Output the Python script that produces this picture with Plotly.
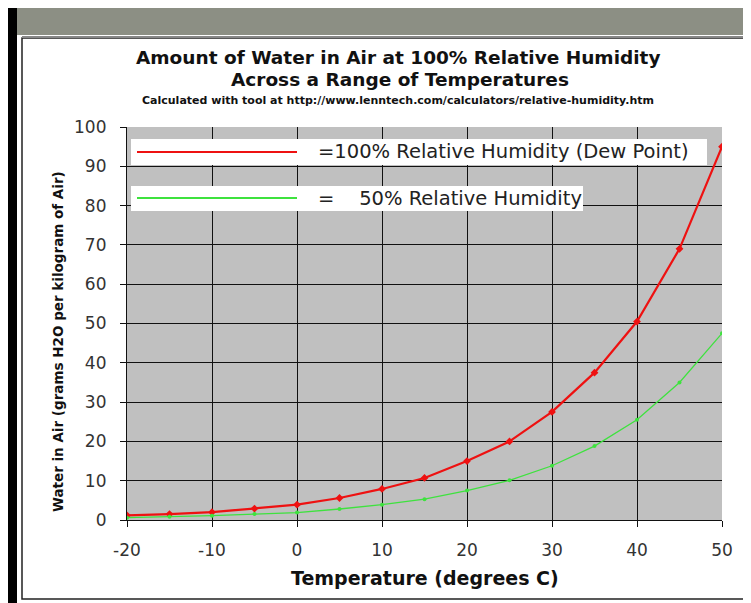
import plotly.graph_objects as go

# ---- data ----
temps_c = [-20, -15, -10, -5, 0, 5, 10, 15, 20, 25, 30, 35, 40, 45, 50]
rh100_g_per_kg = [1.2, 1.5, 2.0, 2.9, 3.9, 5.6, 7.9, 10.7, 15.0, 20.0, 27.5, 37.5, 50.5, 69.0, 95.0]
rh50_g_per_kg = [0.6, 0.8, 1.1, 1.5, 1.9, 2.8, 3.9, 5.3, 7.5, 10.1, 13.8, 18.8, 25.5, 35.0, 47.5]
x_ticks = [-20, -10, 0, 10, 20, 30, 40, 50]
y_ticks = [0, 10, 20, 30, 40, 50, 60, 70, 80, 90, 100]

OFF = 8  # page body margin
W, H = 751 - OFF, 603 - OFF
# plot area in reference-window coordinates
RL, RR, RT, RB = 127, 722, 127, 520
L, R, T, B = RL - OFF, RR - OFF, RT - OFF, RB - OFF


def px(x):
    return (x - RL) / (RR - RL)


def py(y):
    return (RB - y) / (RB - RT)


fig = go.Figure()
fig.add_trace(go.Scatter(
    x=temps_c, y=rh100_g_per_kg, mode="lines+markers",
    line=dict(color="#ee1111", width=2.2),
    marker=dict(symbol="diamond", size=6, color="#ee1111"),
    showlegend=False,
))
fig.add_trace(go.Scatter(
    x=temps_c, y=rh50_g_per_kg, mode="lines+markers",
    line=dict(color="#3ee23e", width=1.3),
    marker=dict(symbol="circle", size=4, color="#3ee23e"),
    showlegend=False,
))

FONT = "DejaVu Sans"
shapes = [
    # screenshot frame
    dict(type="rect", xref="paper", yref="paper", x0=px(0), x1=px(760), y0=py(6), y1=py(35),
         fillcolor="#8c8f84", line=dict(width=0), layer="below"),
    dict(type="rect", xref="paper", yref="paper", x0=px(8), x1=px(17), y0=py(6), y1=py(610),
         fillcolor="#000000", line=dict(width=0), layer="below"),
    dict(type="rect", xref="paper", yref="paper", x0=px(22), x1=px(748), y0=py(38), y1=py(599),
         fillcolor="rgba(0,0,0,0)", line=dict(color="#222222", width=1.5), layer="above"),
    dict(type="line", xref="paper", yref="paper", x0=px(22), x1=px(760), y0=py(37), y1=py(37),
         line=dict(color="#888888", width=2), layer="above"),
    # legend boxes
    dict(type="rect", xref="paper", yref="paper", x0=px(131), x1=px(707), y0=py(139), y1=py(165),
         fillcolor="white", line=dict(width=0), layer="above"),
    dict(type="rect", xref="paper", yref="paper", x0=px(131), x1=px(583), y0=py(186), y1=py(211),
         fillcolor="white", line=dict(width=0), layer="above"),
    dict(type="line", xref="paper", yref="paper", x0=px(137), x1=px(297), y0=py(152), y1=py(152),
         line=dict(color="#ee1111", width=2), layer="above"),
    dict(type="line", xref="paper", yref="paper", x0=px(137), x1=px(297), y0=py(198), y1=py(198),
         line=dict(color="#3ee23e", width=2), layer="above"),
]

annotations = [
    dict(text="Amount of Water in Air at 100% Relative Humidity", x=px(398), y=py(57),
         font=dict(family=FONT, size=18.5, color="#111111", weight="bold")),
    dict(text="Across a Range of Temperatures", x=px(400), y=py(79),
         font=dict(family=FONT, size=18.5, color="#111111", weight="bold")),
    dict(text="Calculated with tool at http://www.lenntech.com/calculators/relative-humidity.htm",
         x=px(398), y=py(101), font=dict(family=FONT, size=11, color="#111111", weight="bold")),
    dict(text="=100% Relative Humidity (Dew Point)", x=px(316), y=py(152), xanchor="left",
         font=dict(family=FONT, size=19.5, color="#222222")),
    dict(text="=    50% Relative Humidity", x=px(316), y=py(198), xanchor="left",
         font=dict(family=FONT, size=19.5, color="#222222")),
    dict(text="Temperature (degrees C)", x=px(425), y=py(578),
         font=dict(family=FONT, size=19, color="#111111", weight="bold")),
    dict(text="Water in Air (grams H2O per kilogram of Air)", x=px(58), y=py(342), textangle=-90,
         font=dict(family=FONT, size=13.5, color="#111111", weight="bold")),
]
for a in annotations:
    a.update(xref="paper", yref="paper", showarrow=False)
    a.setdefault("xanchor", "center")
    a.setdefault("yanchor", "middle")

fig.update_layout(
    width=W, height=H,
    margin=dict(l=L, r=W - R, t=T, b=H - B, pad=0),
    paper_bgcolor="white", plot_bgcolor="#c0c0c0",
    shapes=shapes, annotations=annotations,
    font=dict(family=FONT, size=17, color="#333333"),
)
fig.update_xaxes(
    range=[-20, 50], tickvals=x_ticks, ticktext=[str(v) for v in x_ticks],
    showgrid=True, gridcolor="#111111", gridwidth=1.2,
    showline=True, linecolor="#111111", linewidth=1.2,
    ticks="outside", ticklen=6, tickcolor="#111111", zeroline=False,
    ticklabelstandoff=8,
    tickfont=dict(family=FONT, size=17, color="#333333"),
)
fig.update_yaxes(
    range=[0, 100], tickvals=y_ticks, ticktext=[str(v) for v in y_ticks],
    showgrid=True, gridcolor="#111111", gridwidth=1.2,
    showline=True, linecolor="#111111", linewidth=1.2,
    ticks="outside", ticklen=6, tickcolor="#111111", zeroline=False,
    ticklabelstandoff=10,
    tickfont=dict(family=FONT, size=17, color="#333333"),
)

fig.write_html("out.html")
